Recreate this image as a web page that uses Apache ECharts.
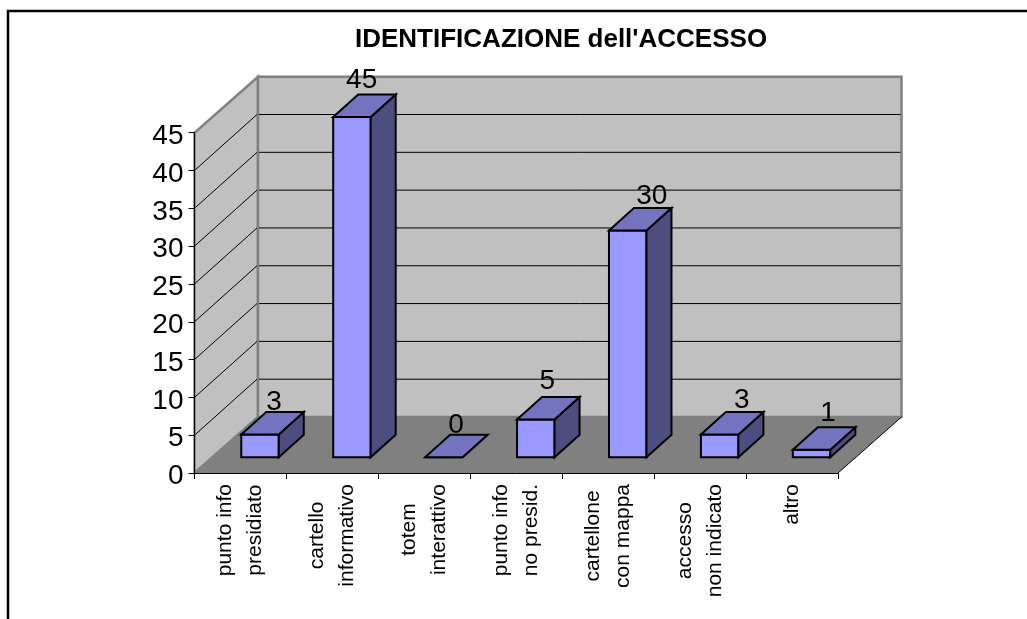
<!DOCTYPE html>
<html lang="it">
<head>
    <meta charset="UTF-8">
    <style>
    html,
    body {
        height: 100%;
        margin: 0;
        background: #fff;
    }
    </style>
</head>
<body>
<div id="chart" style="width:1027px;height:619px;"></div>
<script src="https://cdn.jsdelivr.net/npm/echarts@6/dist/echarts.min.js"></script>
<script>
    var categories = [
        'punto info\npresidiato',
        'cartello\ninformativo',
        'totem\ninterattivo',
        'punto info\nno presid.',
        'cartellone\ncon mappa',
        'accesso\nnon indicato',
        'altro'
    ];
    var values = [3, 45, 0, 5, 30, 3, 1];
    var gridTicks = [5, 10, 15, 20, 25, 30, 35, 40];

    var FONT = '"Liberation Sans", Arial, sans-serif';
    // how far the back wall sits behind the front plane, in px
    var wallDx = 63.5, wallDy = -56;
    // bars stand in the middle of the floor
    var barShiftX = 0.8, barShiftY = -15.7, barWidth = 37.5, barDx = 25, barDy = -22.5;
    // the value labels are not placed evenly in the original
    var labelDx = [33.5, 29.3, 31.7, 31.1, 43.6, 41.7, 36.1];
    var labelGap = [2, 6, 2, 8, 4, 4, 6];

    function poly(points, fill, stroke, lineWidth) {
        return {
            type: 'polygon',
            shape: {points: points},
            style: {fill: fill, stroke: stroke || null, lineWidth: lineWidth || 0}
        };
    }

    function line(x1, y1, x2, y2) {
        return {
            type: 'line',
            shape: {x1: x1, y1: y1, x2: x2, y2: y2},
            style: {stroke: '#000', lineWidth: 1}
        };
    }

    function renderWalls(params, api) {
        var c = params.coordSys;
        var l = c.x, r = c.x + c.width, t = c.y, b = c.y + c.height;
        var kids = [
            // floor
            poly([[l, b], [r, b], [r + wallDx, b + wallDy], [l + wallDx, b + wallDy]], '#808080', null),
            // side wall
            poly([[l, b], [l + wallDx, b + wallDy], [l + wallDx, t + wallDy], [l, t]], '#c0c0c0', '#808080', 2.5),
            // back wall
            poly([[l + wallDx, b + wallDy], [r + wallDx, b + wallDy], [r + wallDx, t + wallDy], [l + wallDx, t + wallDy]], '#c0c0c0', '#808080', 2.5),
            line(r, b, r + wallDx, b + wallDy)
        ];
        gridTicks.forEach(function (v) {
            var y = api.coord([0, v])[1];
            kids.push(line(l, y, l + wallDx - 1, y + wallDy));
            kids.push(line(l + wallDx + 1, y + wallDy, r + wallDx - 1, y + wallDy));
        });
        return {type: 'group', children: kids};
    }

    function renderBar(params, api) {
        var i = api.value(0);
        var base = api.coord([i, 0]);
        var top = api.coord([i, api.value(1)]);
        var x0 = base[0] + barShiftX;
        var x1 = x0 + barWidth;
        var y0 = base[1] + barShiftY;
        var y1 = top[1] + barShiftY;
        return {
            type: 'group',
            children: [
                poly([[x0, y0], [x1, y0], [x1, y1], [x0, y1]], '#9999ff', '#000', 2),
                poly([[x1, y0], [x1 + barDx, y0 + barDy], [x1 + barDx, y1 + barDy], [x1, y1]], '#4d4d80', '#000', 2),
                poly([[x0, y1], [x1, y1], [x1 + barDx, y1 + barDy], [x0 + barDx, y1 + barDy]], '#7373bf', '#000', 2),
                {
                    type: 'text',
                    style: {
                        text: String(api.value(1)),
                        x: base[0] + labelDx[i],
                        y: y1 + barDy - labelGap[i] - 8,
                        fill: '#000',
                        font: '28px ' + FONT,
                        textAlign: 'center',
                        textVerticalAlign: 'middle'
                    }
                }
            ]
        };
    }

    var myChart = echarts.init(document.getElementById('chart'));
    myChart.setOption({
        animation: false,
        backgroundColor: '#fff',
        title: {
            text: "IDENTIFICAZIONE dell'ACCESSO",
            left: 350,
            top: 22,
            textStyle: {fontFamily: FONT, fontSize: 26, fontWeight: 'bold', color: '#000'}
        },
        graphic: [{
            type: 'polyline',
            shape: {points: [[8, 619], [8, 11], [1027, 11]]},
            style: {stroke: '#000', lineWidth: 2.5, fill: null}
        }],
        grid: {left: 194.5, right: 189, top: 132.7, bottom: 146},
        xAxis: {
            type: 'category',
            data: categories,
            z: 4,
            axisLine: {lineStyle: {color: '#000', width: 1}},
            axisTick: {show: true, length: 6, lineStyle: {color: '#000'}},
            axisLabel: {
                interval: 0,
                rotate: 90,
                margin: 11,
                formatter: function (v) {
                    return v.split('\n').map(function (s) {
                        return '{c|' + s + '}';
                    }).join('\n');
                },
                rich: {
                    c: {fontFamily: FONT, fontSize: 21, lineHeight: 30, color: '#000', align: 'center'}
                }
            }
        },
        yAxis: {
            type: 'value',
            min: 0,
            max: 45,
            interval: 5,
            z: 4,
            splitLine: {show: false},
            axisLine: {show: true, lineStyle: {color: '#000', width: 1}},
            axisTick: {show: true, length: 6, lineStyle: {color: '#000'}},
            axisLabel: {fontFamily: FONT, fontSize: 28, color: '#000', margin: 11, verticalAlign: 'top', lineHeight: 7}
        },
        series: [{
            type: 'custom',
            renderItem: renderWalls,
            data: [[0, 0]],
            silent: true,
            z: 1
        }, {
            type: 'custom',
            renderItem: renderBar,
            data: values.map(function (v, i) { return [i, v]; }),
            silent: true,
            z: 3
        }]
    });
</script>
</body>
</html>
